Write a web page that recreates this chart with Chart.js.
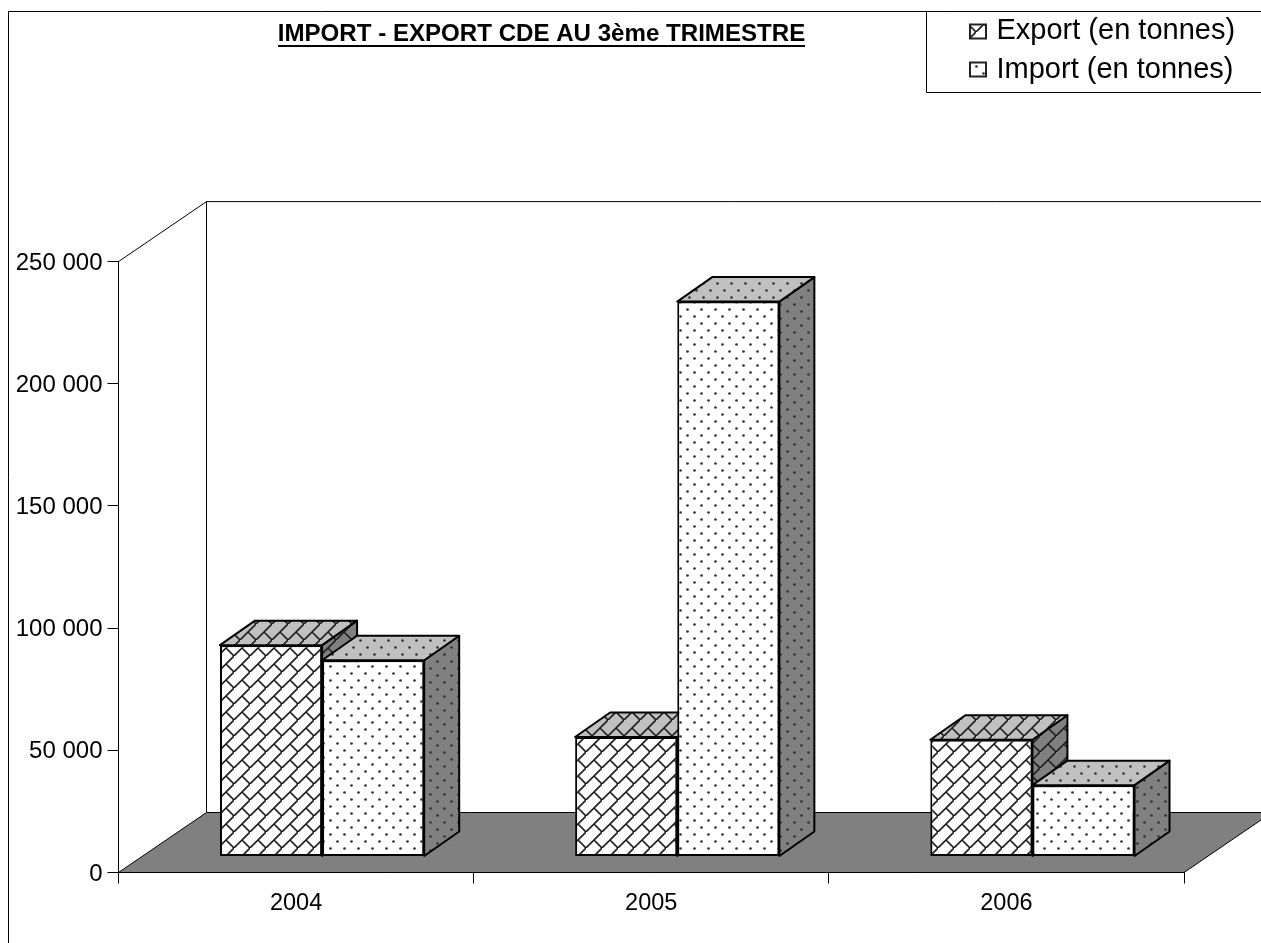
<!DOCTYPE html>
<html lang="fr">
<head>
<meta charset="utf-8">
<title>Import - Export CDE</title>
<script src="https://cdn.jsdelivr.net/npm/chart.js@4"></script>
<style>
  html, body { margin: 0; padding: 0; background: #fff; overflow: hidden; }
  canvas { display: block; }
</style>
</head>
<body>
<canvas id="chart" width="1261" height="943"></canvas>
<script>
// --- donnees ---
const categories = ['2004', '2005', '2006'];
const exportValues = [86500, 48900, 47800];
const importValues = [80300, 227100, 29200];
const seriesNames = ['Export (en tonnes)', 'Import (en tonnes)'];
const chartTitle = 'IMPORT - EXPORT CDE AU 3ème TRIMESTRE';

const FONT = '"Liberation Sans", Arial, sans-serif';

// decalages de la pseudo 3D
const WALL_DX = 88, WALL_DY = 60;   // profondeur du sol
const BAR_DX = 26, BAR_DY = 16;     // position des barres sur le sol
const DEPTH_DX = 35, DEPTH_DY = 24.5; // profondeur d'une barre

// motif "briques" diagonal
function brickPattern(bg) {
    const c = document.createElement('canvas');
    c.width = c.height = 16;
    const g = c.getContext('2d');
    g.fillStyle = bg;
    g.fillRect(0, 0, 16, 16);
    g.strokeStyle = '#222';
    g.lineWidth = 1.7;
    g.beginPath();
    g.moveTo(-2, 18); g.lineTo(18, -2);
    g.moveTo(8, 8); g.lineTo(16, 16);
    g.stroke();
    return g.createPattern(c, 'repeat');
}

// motif "points" en quinconce
function dotPattern(bg) {
    const c = document.createElement('canvas');
    c.width = c.height = 14;
    const g = c.getContext('2d');
    g.fillStyle = bg;
    g.fillRect(0, 0, 14, 14);
    g.fillStyle = '#333';
    [[3.5, 3.5], [10.5, 10.5]].forEach(d => {
        g.beginPath();
        g.arc(d[0], d[1], 1.35, 0, Math.PI * 2);
        g.fill();
    });
    return g.createPattern(c, 'repeat');
}

const fills = [
    { front: brickPattern('#fff'), top: brickPattern('#c0c0c0'), side: brickPattern('#808080') },
    { front: dotPattern('#fff'), top: dotPattern('#c0c0c0'), side: dotPattern('#808080') }
];

function poly(ctx, pts, fill) {
    ctx.beginPath();
    pts.forEach((p, i) => i ? ctx.lineTo(p[0], p[1]) : ctx.moveTo(p[0], p[1]));
    ctx.closePath();
    if (fill) { ctx.fillStyle = fill; ctx.fill(); }
    ctx.stroke();
}

const scene3d = {
    id: 'scene3d',
    afterLayout(chart) {
        // titre et legende places comme sur l'original
        const t = chart.titleBlock;
        t.left = 0; t.right = 1083; t.top = 22; t.bottom = 46;
        const l = chart.legend;
        l.left = 958; l.right = 1261; l.top = 6.5; l.bottom = 100;
    },
    beforeDraw(chart) {
        const ctx = chart.ctx;
        ctx.save();
        ctx.strokeStyle = '#000';
        ctx.lineWidth = 1;
        // cadre exterieur et cadre de la legende
        ctx.beginPath();
        ctx.moveTo(8.5, 943); ctx.lineTo(8.5, 11.5); ctx.lineTo(1261, 11.5);
        ctx.moveTo(926.5, 11.5); ctx.lineTo(926.5, 92.5); ctx.lineTo(1261, 92.5);
        ctx.stroke();
        ctx.restore();
    },
    beforeDatasetsDraw(chart) {
        const ctx = chart.ctx;
        const a = chart.chartArea;
        ctx.save();
        ctx.strokeStyle = '#000';
        ctx.lineWidth = 1;
        // mur du fond
        ctx.beginPath();
        ctx.moveTo(a.left, a.top);
        ctx.lineTo(a.left + WALL_DX, a.top - WALL_DY);
        ctx.lineTo(1261, a.top - WALL_DY);
        ctx.moveTo(a.left + WALL_DX, a.top - WALL_DY);
        ctx.lineTo(a.left + WALL_DX, a.bottom - WALL_DY);
        ctx.stroke();
        // sol
        poly(ctx, [
            [a.left, a.bottom],
            [a.left + WALL_DX, a.bottom - WALL_DY],
            [a.right + WALL_DX, a.bottom - WALL_DY],
            [a.right, a.bottom]
        ], '#808080');

        // faces de dessus et de cote, avant les faces avant
        ctx.lineWidth = 2;
        ctx.lineJoin = 'round';
        chart.data.datasets.forEach((ds, i) => {
            chart.getDatasetMeta(i).data.forEach(el => {
                const l = el.x - el.width / 2 + BAR_DX;
                const r = el.x + el.width / 2 + BAR_DX;
                const t = el.y - BAR_DY;
                const b = el.base - BAR_DY;
                poly(ctx, [[r, t], [r + DEPTH_DX, t - DEPTH_DY], [r + DEPTH_DX, b - DEPTH_DY], [r, b]], fills[i].side);
                poly(ctx, [[l, t], [l + DEPTH_DX, t - DEPTH_DY], [r + DEPTH_DX, t - DEPTH_DY], [r, t]], fills[i].top);
            });
        });
        ctx.restore();
        // les barres sont posees sur le sol
        ctx.save();
        ctx.translate(BAR_DX, -BAR_DY);
    },
    afterDatasetsDraw(chart) {
        chart.ctx.restore();
    },
    afterDraw(chart) {
        const ctx = chart.ctx;
        ctx.save();
        // soulignement du titre
        ctx.fillStyle = '#000';
        ctx.fillRect(278, 45, 527, 2);
        // pastilles de la legende
        ctx.strokeStyle = '#222';
        ctx.lineWidth = 2;
        [24.5, 62.5].forEach((y, i) => {
            ctx.fillStyle = fills[i].front;
            ctx.fillRect(970, y, 16, 14);
            ctx.strokeRect(970, y, 16, 14);
        });
        ctx.restore();
    }
};

new Chart(document.getElementById('chart'), {
    type: 'bar',
    plugins: [scene3d],
    data: {
        labels: categories,
        datasets: [
            { label: seriesNames[0], data: exportValues, backgroundColor: fills[0].front },
            { label: seriesNames[1], data: importValues, backgroundColor: fills[1].front }
        ]
    },
    options: {
        responsive: false,
        animation: false,
        layout: { padding: { left: 0, right: 77, top: 237.5, bottom: 0 } },
        datasets: {
            bar: {
                clip: false,
                borderColor: '#000',
                borderWidth: 2,
                borderSkipped: false,
                barPercentage: 1,
                categoryPercentage: 0.575
            }
        },
        plugins: {
            title: {
                display: true,
                text: chartTitle,
                color: '#000',
                padding: 0,
                font: { family: FONT, size: 24.1, weight: 'bold', lineHeight: 1 }
            },
            legend: {
                position: 'chartArea',
                align: 'start',
                labels: {
                    color: '#000',
                    padding: 10,
                    boxWidth: 14,
                    boxHeight: 14,
                    font: { family: FONT, size: 29 },
                    // la pastille est dessinee a part, un peu plus grande que le decalage du texte
                    generateLabels: c => Chart.defaults.plugins.legend.labels.generateLabels(c)
                        .map(i => ({ ...i, fillStyle: 'transparent', strokeStyle: 'transparent', lineWidth: 0 }))
                }
            },
            tooltip: { enabled: false }
        },
        scales: {
            x: {
                afterFit(scale) { scale.height = 70.5; },
                border: { color: '#000', width: 1 },
                grid: { drawOnChartArea: false, color: '#000', tickLength: 11 },
                ticks: { color: '#000', padding: 6, maxRotation: 0, font: { family: FONT, size: 23.5 } }
            },
            y: {
                min: 0,
                max: 250000,
                afterFit(scale) { scale.width = 118.5; },
                border: { color: '#000', width: 1 },
                grid: { drawOnChartArea: false, color: '#000', tickLength: 11 },
                ticks: {
                    stepSize: 50000,
                    color: '#000',
                    padding: 5,
                    labelOffset: 1.5,
                    font: { family: FONT, size: 24 },
                    callback: v => String(v).replace(/\B(?=(\d{3})+$)/g, ' ')
                }
            }
        }
    }
});
</script>
</body>
</html>
